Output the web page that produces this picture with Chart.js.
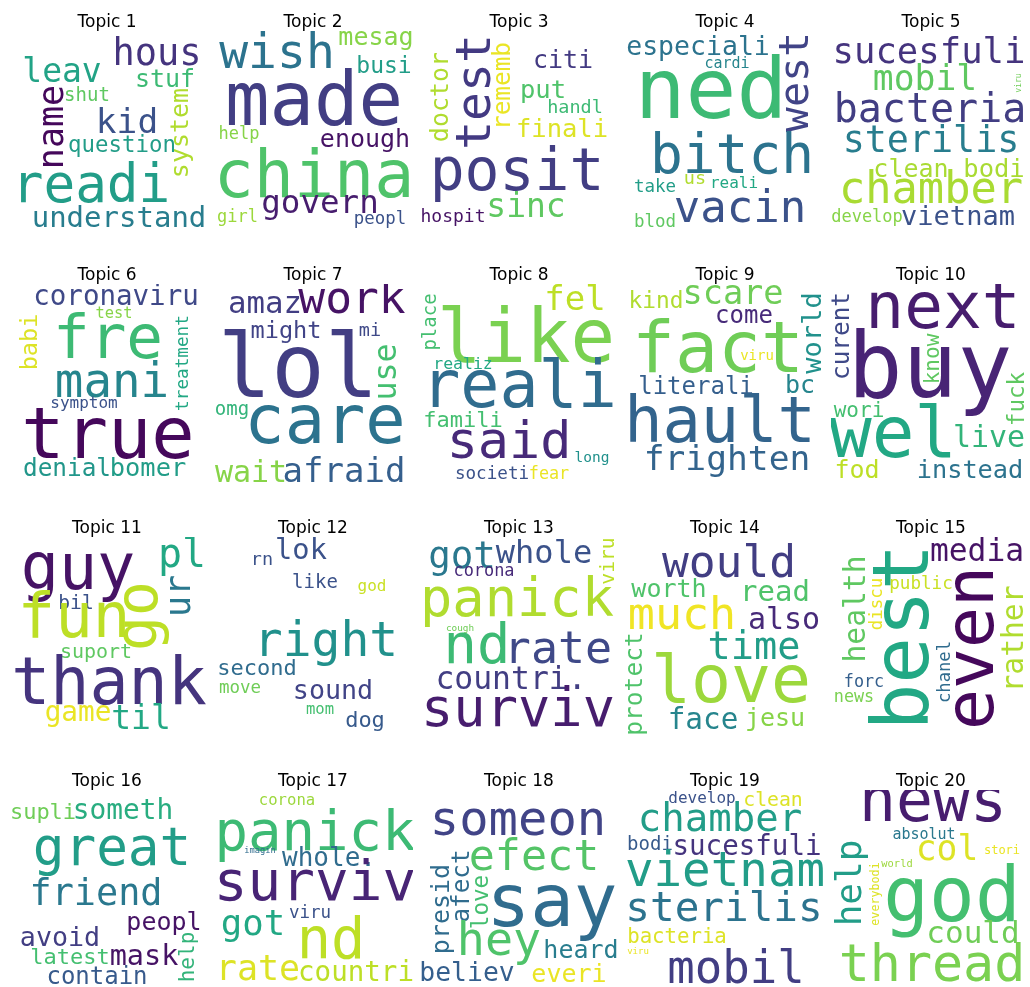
<!DOCTYPE html>
<html>
<head>
<meta charset="utf-8">
<script src="https://cdn.jsdelivr.net/npm/chart.js@4.4.1/dist/chart.umd.min.js"></script>
<style>
  body { margin: 0; background: #fff; }
  #grid { position: relative; width: 1030px; height: 987px; }
  #grid canvas { position: absolute; }
</style>
</head>
<body>
<div id="grid"></div>
<script>
// ---------------------------------------------------------------
//  word clouds per topic
//  row = [word, size, x, y, vertical (1 = reads upward), tone 0..1 on viridis]
//  x / y / size are in cloud units (0..200 across the square cloud)
// ---------------------------------------------------------------
const topicTitles = ["Topic 1", "Topic 2", "Topic 3", "Topic 4", "Topic 5",
  "Topic 6", "Topic 7", "Topic 8", "Topic 9", "Topic 10",
  "Topic 11", "Topic 12", "Topic 13", "Topic 14", "Topic 15",
  "Topic 16", "Topic 17", "Topic 18", "Topic 19", "Topic 20"];

const cloud1 = [
  ["hous", 37, 150, 34, 0, .15], ["leav", 33, 55, 51, 0, .58], ["stuf", 25, 158, 56, 0, .68],
  ["name", 35, 56, 96, 1, .02], ["shut", 19, 80, 70, 0, .75], ["kid", 34.5, 120, 102, 0, .25],
  ["system", 25, 181, 102, 1, .88], ["question", 22.4, 115, 121, 0, .55],
  ["readi", 52.7, 84, 171, 0, .55], ["understand", 29, 112, 196, 0, .42]
];
const cloud2 = [
  ["wish", 48, 64, 37, 0, .38], ["mesag", 25, 163, 14, 0, .82], ["busi", 23, 171, 42, 0, .55],
  ["made", 74, 101, 94, 0, .18], ["help", 17, 26, 108, 0, .82], ["enough", 25, 152, 116, 0, .05],
  ["china", 66.7, 101, 166, 0, .72], ["govern", 32.5, 107, 182, 0, .08],
  ["girl", 17, 24.5, 191, 0, .85], ["peopl", 17.4, 167, 193, 0, .25]
];
const cloud3 = [
  ["test", 48, 71, 61, 1, .17], ["doctor", 25, 29, 66, 1, .88], ["rememb", 24.4, 91, 55, 1, .97],
  ["citi", 25, 144, 37, 0, .17], ["put", 25.6, 124, 67, 0, .72], ["handl", 18.5, 156, 82, 0, .68],
  ["finali", 25.5, 143, 106, 0, .95], ["posit", 58, 98, 159, 0, .18],
  ["sinc", 33, 107, 186, 0, .75], ["hospit", 18, 34, 191, 0, .05]
];
const cloud4 = [
  ["especiali", 26.5, 73, 24, 0, .38], ["cardi", 15, 102, 37, 0, .45], ["west", 41.7, 183, 51, 1, .2],
  ["ned", 84.5, 86, 87, 0, .68], ["bitch", 54.5, 107, 142, 0, .38], ["take", 17.5, 30, 161, 0, .55],
  ["us", 18.5, 70, 153, 0, .88], ["reali", 16, 109, 157, 0, .6],
  ["vacin", 44, 115, 191, 0, .25], ["blod", 17.5, 30, 196, 0, .75]
];
const cloud5 = [
  ["sucesfuli", 35.6, 98, 32, 0, .15], ["mobil", 34.7, 94, 59, 0, .75], ["viru", 8, 190, 52, 1, .78],
  ["bacteria", 40, 99, 91, 0, .18], ["sterilis", 36.7, 100, 121, 0, .42], ["clean", 25, 80, 146, 0, .87],
  ["bodi", 25.5, 163, 146, 0, .87], ["chamber", 43.7, 100, 172, 0, .87],
  ["develop", 17, 36, 191, 0, .82], ["vietnam", 27, 127, 194, 0, .25]
];
const cloud6 = [
  ["coronaviru", 27.5, 109, 21, 0, .22], ["test", 15.4, 107, 34, 0, .82], ["fre", 61, 101, 74, 0, .68],
  ["babi", 23.5, 30, 58, 1, .95], ["treatment", 17.7, 181, 79, 1, .6], ["mani", 47.5, 105, 113, 0, .45],
  ["symptom", 16, 77, 124, 0, .25], ["true", 72, 101, 174, 0, .02],
  ["denial", 24.4, 60, 192, 0, .52], ["bomer", 25.4, 141, 192, 0, .55]
];
const cloud7 = [
  ["amaz", 30.7, 52, 29, 0, .18], ["work", 44.6, 139, 29, 0, .05], ["might", 23.6, 73, 54, 0, .2],
  ["mi", 18.5, 157, 52, 0, .22], ["lol", 89, 85, 113, 0, .18], ["use", 31.7, 183, 88, 1, .7],
  ["omg", 19, 19, 131, 0, .65], ["care", 67, 112, 159, 0, .38],
  ["wait", 30, 38, 198, 0, .82], ["afraid", 34, 131, 198, 0, .3]
];
const cloud8 = [
  ["place", 19, 17, 38, 1, .7], ["like", 74, 107, 78, 0, .8], ["fel", 34, 156, 26, 0, .9],
  ["realiz", 16.5, 44, 85, 0, .6], ["reali", 65, 100, 123, 0, .35], ["famili", 22, 44, 143, 0, .7],
  ["said", 51.8, 90, 174, 0, .12], ["long", 14.5, 173, 178, 0, .5],
  ["societi", 17.6, 73, 195, 0, .25], ["fear", 16.8, 130, 195, 0, .97]
];
const cloud9 = [
  ["kind", 22.8, 31, 24, 0, .88], ["scare", 33.6, 108, 20, 0, .78], ["come", 24, 119, 39, 0, .12],
  ["world", 27, 196, 49, 1, .5], ["fact", 71.5, 93, 88, 0, .78], ["viru", 14, 132, 76, 0, .97],
  ["literali", 24, 71, 110, 0, .3], ["bc", 25, 175, 109, 0, .45],
  ["hault", 63.6, 95, 158, 0, .32], ["frighten", 34.6, 102, 186, 0, .32]
];
const cloud10 = [
  ["next", 64.5, 112, 44, 0, .08], ["curent", 24.4, 18, 52, 1, .22], ["buy", 91, 99, 113, 0, .1],
  ["know", 21, 108, 75, 1, .75], ["fuck", 22.6, 193, 115, 1, .75], ["wori", 21, 28, 133, 0, .7],
  ["wel", 71, 62, 173, 0, .6], ["live", 30, 158, 163, 0, .65],
  ["fod", 25, 26, 194, 0, .9], ["instead", 25.3, 139, 194, 0, .38]
];
const cloud11 = [
  ["guy", 63.5, 71, 52, 0, .05], ["pl", 40, 175, 30, 0, .6], ["go", 58, 150, 79, 1, .9],
  ["ur", 35, 183, 59, 1, .4], ["bil", 19.6, 69, 72, 0, .25], ["fun", 62.5, 67, 100, 0, .9],
  ["suport", 20, 89, 121, 0, .75], ["thank", 65, 102, 167, 0, .15],
  ["game", 27.7, 71, 184, 0, .97], ["til", 33, 134, 192, 0, .6]
];
const cloud12 = [
  ["lok", 28.7, 88, 22, 0, .25], ["rn", 18.5, 49, 28, 0, .25], ["like", 19, 102, 51, 0, .25],
  ["god", 16, 159, 54, 0, .92], ["right", 48, 113, 119, 0, .5], ["second", 22, 44, 138, 0, .35],
  ["move", 17.5, 27, 156, 0, .78], ["sound", 26.7, 120, 162, 0, .2],
  ["mom", 15.6, 107, 177, 0, .7], ["dog", 22, 152, 190, 0, .28]
];
const cloud13 = [
  ["got", 37.5, 43, 31, 0, .4], ["whole", 32, 125, 26, 0, .25], ["viru", 19.7, 195, 24, 1, .9],
  ["corona", 16.9, 65, 39, 0, .12], ["panick", 53.7, 98, 79, 0, .88], ["cough", 9.4, 41, 94, 0, .78],
  ["nd", 55.5, 58, 126, 0, .68], ["rate", 45, 139, 126, 0, .22],
  ["countri.", 31.4, 92, 152, 0, .18], ["surviv", 53.7, 99, 189, 0, .08]
];
const cloud14 = [
  ["would", 44.6, 104, 40, 0, .18], ["worth", 25, 44, 60, 0, .72], ["read", 29, 150, 64, 0, .72],
  ["much", 45, 57, 92, 0, .98], ["also", 30, 159, 92, 0, .12], ["protect", 24.5, 17, 147, 1, .72],
  ["time", 38.6, 129, 122, 0, .55], ["love", 66.5, 106, 165, 0, .85],
  ["face", 29.3, 78, 192, 0, .45], ["jesu", 25, 150, 189, 0, .82]
];
const cloud15 = [
  ["media", 31.3, 146, 24, 0, .05], ["health", 29.7, 34, 72, 1, .75], ["discu", 17.4, 51, 67, 1, .97],
  ["public", 17.6, 90, 52, 0, .92], ["best", 77.5, 97, 100, 1, .6], ["even", 68, 162, 111, 1, .02],
  ["rather", 29.7, 192, 102, 1, .88], ["chanel", 17.2, 119, 135, 1, .35],
  ["forc", 16.8, 33, 150, 0, .3], ["news", 16.8, 23, 165, 0, .8]
];
const cloud16 = [
  ["supli", 22, 36, 29, 0, .78], ["someth", 27.8, 116, 29, 0, .62], ["great", 52.7, 105, 75, 0, .55],
  ["friend", 36.8, 89, 115, 0, .4], ["peopl", 25, 157, 140, 0, .05], ["avoid", 26.7, 53, 156, 0, .18],
  ["help", 21, 187, 167, 1, .65], ["latest", 22, 63, 174, 0, .7],
  ["mask", 28.5, 137, 175, 0, .05], ["contain", 24, 90, 194, 0, .28]
];
const cloud17 = [
  ["corona", 15.6, 74, 15, 0, .85], ["panick", 55.7, 102, 60, 0, .68], ["imagin", 8.7, 47, 63, 0, .35],
  ["whole.", 26, 116, 76, 0, .35], ["surviv", 56, 102, 110, 0, .1], ["got", 35.7, 40, 145, 0, .6],
  ["viru", 17.5, 97, 128, 0, .25], ["nd", 57, 118, 168, 0, .9],
  ["rate", 35, 45, 190, 0, .95], ["countri", 27.5, 143, 191, 0, .9]
];
const cloud18 = [
  ["someon", 48.8, 99, 45, 0, .2], ["efect", 43.4, 115, 80, 0, .73], ["presid", 25, 30, 119, 1, .35],
  ["afect", 24.3, 50, 96, 1, .35], ["love", 22.6, 69, 112, 1, .7], ["say", 72.5, 133, 136, 0, .35],
  ["hey", 46.7, 80, 165, 0, .72], ["heard", 25, 162, 168, 0, .42],
  ["believ", 26.4, 48, 191, 0, .3], ["everi", 25, 150, 192, 0, .97]
];
const cloud19 = [
  ["develop", 16, 77, 13, 0, .25], ["clean", 19.8, 148, 16, 0, .95], ["chamber", 39, 95, 41, 0, .55],
  ["bodi", 19, 25, 60, 0, .28], ["sucesfuli", 27.5, 122, 65, 0, .15], ["vietnam", 47.5, 100, 96, 0, .55],
  ["sterilis", 41, 99, 131, 0, .38], ["bacteria", 20.7, 52, 153, 0, .95],
  ["viru", 9, 13, 164, 0, .97], ["mobil", 45.7, 111, 193, 0, .18]
];
const cloud20 = [
  ["news", 61.4, 102, 31, 0, .08], ["absolut", 15, 93, 49, 0, .4], ["col", 34.7, 116, 70, 0, .95],
  ["stori", 12, 171, 64, 0, .97], ["world", 10.4, 66, 77, 0, .85], ["help", 36, 30, 93, 1, .55],
  ["everybodi", 11.7, 48, 104, 1, .95], ["god", 76, 121, 131, 0, .7],
  ["could", 31, 142, 153, 0, .78], ["thread", 51.7, 101, 191, 0, .8]
];

const clouds = [cloud1, cloud2, cloud3, cloud4, cloud5, cloud6, cloud7, cloud8, cloud9, cloud10,
  cloud11, cloud12, cloud13, cloud14, cloud15, cloud16, cloud17, cloud18, cloud19, cloud20];

// viridis colormap
const viridisStops = ["#440154", "#482475", "#414487", "#355f8d", "#2a788e", "#21918c",
  "#22a884", "#44bf70", "#7ad151", "#bddf26", "#fde725"];

function viridis(t) {
  const p = Math.max(0, Math.min(1, t)) * (viridisStops.length - 1);
  const i = Math.min(Math.floor(p), viridisStops.length - 2);
  const f = p - i;
  const a = viridisStops[i], b = viridisStops[i + 1];
  const ch = (s, k) => parseInt(s.substr(1 + 2 * k, 2), 16);
  const c = [0, 1, 2].map(k => Math.round(ch(a, k) + (ch(b, k) - ch(a, k)) * f));
  return `rgb(${c[0]},${c[1]},${c[2]})`;
}

// draws each word at its point, sized through the x scale
const wordPlugin = {
  id: "words",
  afterDatasetsDraw(chart) {
    const ds = chart.data.datasets[0];
    const meta = chart.getDatasetMeta(0);
    const xs = chart.scales.x;
    const area = chart.chartArea;
    const ctx = chart.ctx;

    ctx.save();
    ctx.beginPath();
    ctx.rect(area.left, area.top, area.right - area.left, area.bottom - area.top);
    ctx.clip();

    meta.data.forEach((pt, i) => {
      const r = ds.words[i];
      const fs = xs.getPixelForValue(r[1]) - xs.getPixelForValue(0);
      ctx.save();
      ctx.font = `${fs}px "DejaVu Sans Mono"`;
      ctx.fillStyle = viridis(r[5]);
      ctx.textAlign = "center";
      ctx.textBaseline = "alphabetic";
      ctx.translate(pt.x, pt.y);
      if (r[4]) ctx.rotate(-Math.PI / 2);
      ctx.fillText(r[0], 0, 0);
      ctx.restore();
    });
    ctx.restore();
  }
};

const grid = document.getElementById("grid");

clouds.forEach((rows, n) => {
  const col = n % 5, row = Math.floor(n / 5);
  const cv = document.createElement("canvas");
  cv.width = 200;
  cv.height = 232;
  cv.style.left = (7 + 206 * col) + "px";
  cv.style.top = (253 * row - 1) + "px";
  grid.appendChild(cv);

  new Chart(cv.getContext("2d"), {
    type: "scatter",
    data: {
      datasets: [{
        data: rows.map(r => ({ x: r[2], y: r[3] })),
        words: rows,
        pointRadius: 0,
        pointHoverRadius: 0
      }]
    },
    options: {
      responsive: false,
      animation: false,
      devicePixelRatio: 1,
      events: [],
      layout: { padding: 0, autoPadding: false },
      scales: {
        x: { type: "linear", min: 0, max: 200, display: false },
        y: { type: "linear", min: 0, max: 200, reverse: true, display: false }
      },
      plugins: {
        legend: { display: false },
        tooltip: { enabled: false },
        title: {
          display: true,
          text: topicTitles[n],
          color: "#000",
          font: { family: "DejaVu Sans", size: 17, weight: "normal", lineHeight: 1 },
          padding: { top: 15, bottom: 0 }
        }
      }
    },
    plugins: [wordPlugin]
  });
});
</script>
</body>
</html>
